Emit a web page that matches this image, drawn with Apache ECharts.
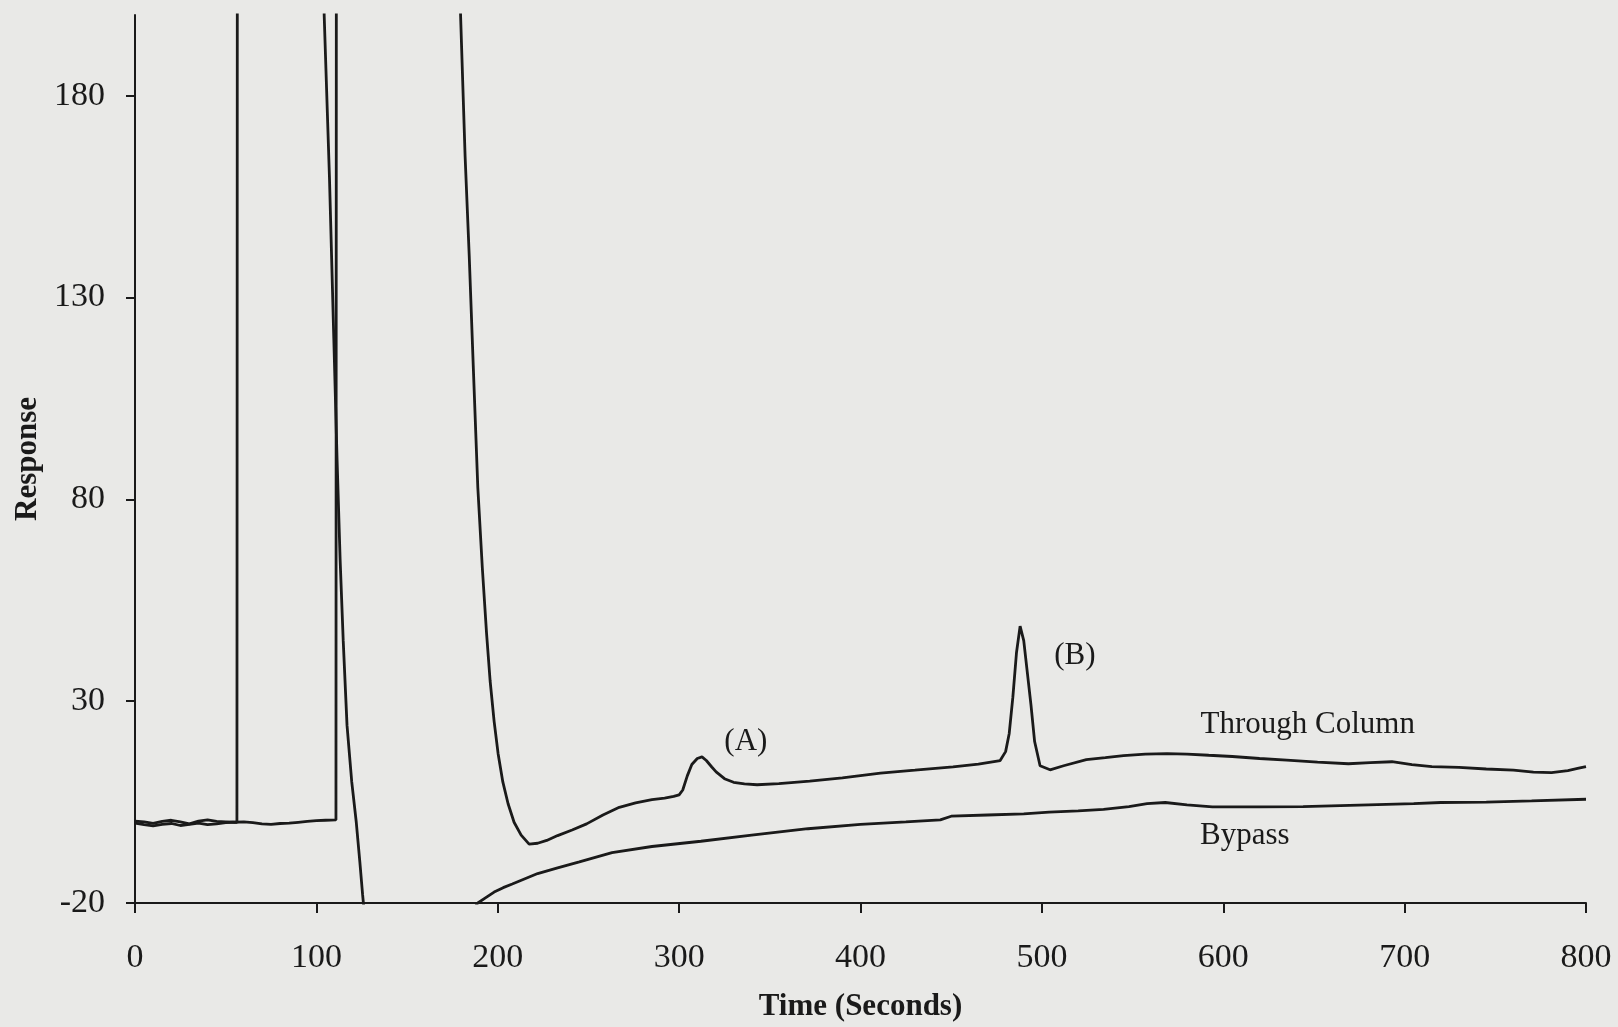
<!DOCTYPE html>
<html>
<head>
<meta charset="utf-8">
<script src="https://cdn.jsdelivr.net/npm/echarts@6/dist/echarts.min.js"></script>
<style>
  html, body { margin: 0; padding: 0; background: #e9e9e7; }
  #chart { width: 1618px; height: 1027px; }
</style>
</head>
<body>
<div id="chart"></div>
<script>
// ---- Data ----
const xTicks = [0, 100, 200, 300, 400, 500, 600, 700, 800];
const yTicks = [-20, 30, 80, 130, 180];

// Through Column trace (time s, response); values beyond the axis range are clipped
const throughX = [0, 5, 10, 15, 20, 25, 30, 35, 40, 45, 50, 55, 60, 65, 70, 75, 80, 85, 90, 95, 100, 105, 110.8, 111.2,
  178, 179.5, 182, 184.3, 186.5, 189, 191.5, 193.8, 195.8, 198, 200.2, 202.8, 205.7, 209, 212.9, 217.3, 222, 227, 233, 241,
  249, 258, 267, 276, 285, 292, 297, 300, 302, 304.5, 307, 310, 312.6, 315, 318, 320.4, 325, 330, 336, 343, 355, 372,
  390, 411, 430, 451, 465, 477, 480, 482, 484, 486, 488, 490, 492, 494, 496, 499, 504.5, 512, 524.5, 535, 545, 557,
  569, 580, 592, 605, 620, 635, 652, 669, 681, 693, 704, 715, 730, 745, 760, 771, 781, 790, 796, 800];
const throughY = [0.3, 0.1, -0.3, 0.2, 0.5, 0.1, -0.4, 0.3, 0.6, 0.2, 0.1, 0.0, 0.1, -0.1, -0.4, -0.5, -0.3, -0.2, 0, 0.2, 0.4, 0.5, 0.6, 400,
  400, 200, 165, 140, 113, 83, 63, 47, 35, 25, 17, 10, 4.6, 0, -3.2, -5.4, -5.2, -4.5, -3.3, -1.9,
  -0.4, 1.8, 3.7, 4.8, 5.6, 6.0, 6.4, 6.8, 8.0, 11.5, 14.3, 15.8, 16.2, 15.3, 13.7, 12.5, 10.8, 9.9, 9.5, 9.3, 9.6, 10.2,
  11.0, 12.2, 12.9, 13.7, 14.4, 15.3, 17.5, 22, 31, 42, 48.6, 45, 37, 29, 20, 14, 13.0, 14.0, 15.5, 16.0, 16.5, 16.9,
  17.0, 16.9, 16.6, 16.3, 15.8, 15.4, 14.9, 14.5, 14.8, 15.0, 14.3, 13.8, 13.6, 13.2, 12.9, 12.4, 12.3, 12.8, 13.4, 13.8];

// Bypass trace
const bypassX = [0, 5, 10, 15, 20, 25, 30, 35, 40, 45, 50, 54, 56.2, 56.6,
  102, 104.3, 107.2, 109.6, 111.4, 113.1, 114.8, 116.9, 119.5, 122, 124, 125.5, 127, 150, 186,
  189, 193, 198, 203, 208, 215, 222, 233, 245, 263, 285, 312, 340, 371, 400, 425, 444, 450, 470, 490, 504, 520, 534,
  548, 558, 568, 580, 594, 620, 644, 680, 705, 720, 745, 770, 800];
const bypassY = [-0.2, -0.6, -0.9, -0.5, -0.3, -0.8, -0.5, -0.2, -0.6, -0.4, -0.1, 0, 0, 400,
  400, 200, 160, 120, 90, 65, 45, 24, 10, 0, -10, -18, -25, -60, -22,
  -20, -18.8, -17.3, -16.2, -15.3, -14, -12.7, -11.3, -9.8, -7.5, -6, -4.7, -3.2, -1.6, -0.5, 0.1, 0.6, 1.5, 1.8, 2.1, 2.5, 2.8, 3.2,
  3.9, 4.6, 4.9, 4.3, 3.8, 3.8, 3.9, 4.3, 4.6, 4.9, 5.0, 5.3, 5.7];

// Annotations: [x, y, text]
const annotations = [
  [336.8, 19.8, '(A)'],
  [518.2, 41.2, '(B)'],
  [646.6, 24.2, 'Through Column'],
  [611.9, -3.3, 'Bypass']
];

// ---- Chart ----
const ink = '#1a1a1a';
const font = '"Liberation Serif", "Times New Roman", serif';
const zip = (xs, ys) => xs.map((x, i) => [x, ys[i]]);

const chart = echarts.init(document.getElementById('chart'), null, { renderer: 'canvas' });
chart.setOption({
  backgroundColor: '#e9e9e7',
  animation: false,
  grid: { left: 135, right: 32, top: 15, bottom: 116, containLabel: false },
  xAxis: {
    type: 'value', min: 0, max: 800, interval: 100,
    name: 'Time (Seconds)', nameLocation: 'middle', nameGap: 88,
    nameTextStyle: { fontFamily: font, fontSize: 31, fontWeight: 'bold', color: ink },
    axisLine: { onZero: false, lineStyle: { color: ink, width: 2 } },
    axisTick: { show: true, length: 10, inside: false, customValues: xTicks, lineStyle: { color: ink, width: 2 } },
    axisLabel: { margin: 38, fontFamily: font, fontSize: 34, color: ink, customValues: xTicks },
    splitLine: { show: false }
  },
  yAxis: {
    type: 'value', min: -20, max: 200,
    name: 'Response', nameLocation: 'middle', nameGap: 84, nameRotate: 90,
    nameTextStyle: { fontFamily: font, fontSize: 31, fontWeight: 'bold', color: ink },
    axisLine: { onZero: false, lineStyle: { color: ink, width: 2 } },
    axisTick: { show: true, length: 9, customValues: yTicks, lineStyle: { color: ink, width: 2 } },
    axisLabel: { margin: 30, fontFamily: font, fontSize: 34, color: ink, customValues: yTicks },
    splitLine: { show: false }
  },
  series: [
    {
      name: 'Through Column', type: 'line', data: zip(throughX, throughY),
      showSymbol: false, clip: true, smooth: false,
      lineStyle: { color: ink, width: 2.8 },
      markPoint: {
        symbol: 'rect', symbolSize: 1, itemStyle: { color: 'rgba(0,0,0,0)' },
        label: { show: true, position: 'inside', fontFamily: font, fontSize: 31, color: ink,
                 formatter: p => p.data.name },
        data: annotations.map(a => ({ coord: [a[0], a[1]], name: a[2] }))
      }
    },
    {
      name: 'Bypass', type: 'line', data: zip(bypassX, bypassY),
      showSymbol: false, clip: true, smooth: false,
      lineStyle: { color: ink, width: 2.8 }
    }
  ]
});
</script>
</body>
</html>
